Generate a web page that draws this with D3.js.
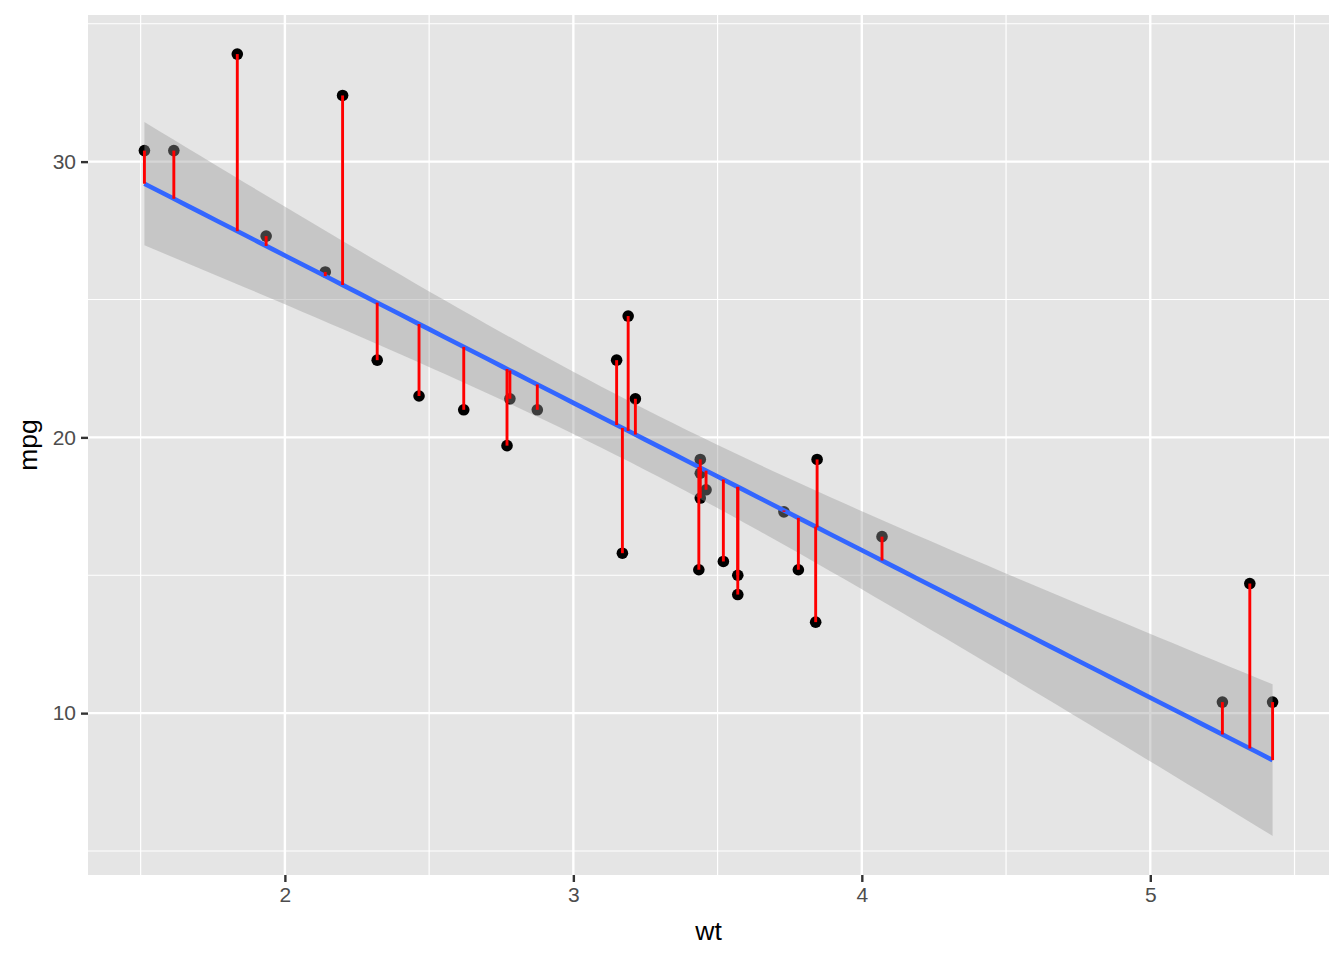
<!DOCTYPE html>
<html lang="en">
<head>
  <meta charset="UTF-8">
  <title>mpg vs wt</title>
  <style>
    body { margin: 0; background: #fff; }
    text { font-family: "Liberation Sans", Arial, sans-serif; }
  </style>
</head>
<body>
<svg width="1344" height="960"></svg>

<script src="https://cdn.jsdelivr.net/npm/d3@7"></script>
<script>
  // mtcars: weight (1000 lbs) and miles per gallon
  var wt = [2.620, 2.875, 2.320, 3.215, 3.440, 3.460, 3.570, 3.190, 3.150, 3.440, 3.440,
            4.070, 3.730, 3.780, 5.250, 5.424, 5.345, 2.200, 1.615, 1.835, 2.465, 3.520,
            3.435, 3.840, 3.845, 1.935, 2.140, 1.513, 3.170, 2.770, 3.570, 2.780];
  var mpg = [21.0, 21.0, 22.8, 21.4, 18.7, 18.1, 14.3, 24.4, 22.8, 19.2, 17.8,
             16.4, 17.3, 15.2, 10.4, 10.4, 14.7, 32.4, 30.4, 33.9, 21.5, 15.5,
             15.2, 13.3, 19.2, 27.3, 26.0, 30.4, 15.8, 19.7, 15.0, 21.4];
  var xTicks = [2, 3, 4, 5];
  var yTicks = [10, 20, 30];
  var xMinor = [1.5, 2.5, 3.5, 4.5, 5.5];
  var yMinor = [5, 15, 25, 35];

  var svg = d3.select('svg');
  var marge = {top: 15, right: 15, bottom: 85, left: 88};  //边距
  var width = 1344 - marge.left - marge.right, height = 960 - marge.top - marge.bottom;

  // 线性回归 (lm) + 95% 置信带
  var n = wt.length, xbar = d3.mean(wt), ybar = d3.mean(mpg);
  var sxx = d3.sum(wt, function (d) { return (d - xbar) * (d - xbar); });
  var sxy = d3.sum(wt, function (d, i) { return (d - xbar) * (mpg[i] - ybar); });
  var slope = sxy / sxx, intercept = ybar - slope * xbar;
  var fit = function (x) { return intercept + slope * x; };
  var sse = d3.sum(wt, function (d, i) { var r = mpg[i] - fit(d); return r * r; });
  var s = Math.sqrt(sse / (n - 2)), tq = 2.042272;
  var xMin = d3.min(wt), xMax = d3.max(wt);
  var band = d3.range(80).map(function (i) {
    var x = xMin + (xMax - xMin) * i / 79;
    var se = s * Math.sqrt(1 / n + (x - xbar) * (x - xbar) / sxx);
    return {x: x, y: fit(x), lo: fit(x) - tq * se, hi: fit(x) + tq * se};
  });

  var xPad = (xMax - xMin) * 0.05;
  var yLo = Math.min(d3.min(mpg), d3.min(band, function (d) { return d.lo; }));
  var yHi = Math.max(d3.max(mpg), d3.max(band, function (d) { return d.hi; }));
  var yPad = (yHi - yLo) * 0.05;
  var xScale = d3.scaleLinear().domain([xMin - xPad, xMax + xPad]).range([0, width]);
  var yScale = d3.scaleLinear().domain([yLo - yPad, yHi + yPad]).range([height, 0]);

  var g = svg.append('g').attr('transform', `translate(${marge.left}, ${marge.top})`);
  g.append('rect').attr('width', width).attr('height', height).attr('fill', '#E5E5E5');

  // 网格线
  g.selectAll('.xminor').data(xMinor).enter().append('line')
    .attr('x1', xScale).attr('x2', xScale).attr('y1', 0).attr('y2', height)
    .attr('stroke', '#fff').attr('stroke-width', 1.2);
  g.selectAll('.yminor').data(yMinor).enter().append('line')
    .attr('y1', yScale).attr('y2', yScale).attr('x1', 0).attr('x2', width)
    .attr('stroke', '#fff').attr('stroke-width', 1.2);
  g.selectAll('.xmajor').data(xTicks).enter().append('line')
    .attr('x1', xScale).attr('x2', xScale).attr('y1', 0).attr('y2', height)
    .attr('stroke', '#fff').attr('stroke-width', 2.4);
  g.selectAll('.ymajor').data(yTicks).enter().append('line')
    .attr('y1', yScale).attr('y2', yScale).attr('x1', 0).attr('x2', width)
    .attr('stroke', '#fff').attr('stroke-width', 2.4);

  // 点
  g.selectAll('circle').data(wt).enter().append('circle')
    .attr('cx', function (d) { return xScale(d); })
    .attr('cy', function (d, i) { return yScale(mpg[i]); })
    .attr('r', 5.8).attr('fill', '#000');

  // 置信带和回归线
  var area = d3.area().x(function (d) { return xScale(d.x); })
    .y0(function (d) { return yScale(d.lo); }).y1(function (d) { return yScale(d.hi); });
  g.append('path').datum(band).attr('d', area).attr('fill', '#999999').attr('fill-opacity', 0.4);
  var line = d3.line().x(function (d) { return xScale(d.x); }).y(function (d) { return yScale(d.y); });
  g.append('path').datum(band).attr('d', line).attr('fill', 'none')
    .attr('stroke', '#3366FF').attr('stroke-width', 4.6);

  // 残差线段
  g.selectAll('.resid').data(wt).enter().append('line')
    .attr('x1', function (d) { return xScale(d); }).attr('x2', function (d) { return xScale(d); })
    .attr('y1', function (d, i) { return yScale(mpg[i]); })
    .attr('y2', function (d) { return yScale(fit(d)); })
    .attr('stroke', 'red').attr('stroke-width', 2.9);

  // 坐标轴
  var xAxis = d3.axisBottom(xScale).tickValues(xTicks).tickSize(7).tickPadding(5).tickFormat(d3.format('d'));
  var yAxis = d3.axisLeft(yScale).tickValues(yTicks).tickSize(7).tickPadding(5).tickFormat(d3.format('d'));
  var gx = g.append('g').attr('transform', `translate(0, ${height})`).call(xAxis);
  var gy = g.append('g').call(yAxis);
  [gx, gy].forEach(function (ax) {
    ax.attr('font-size', null).attr('font-family', null);
    ax.select('.domain').remove();
    ax.selectAll('.tick line').attr('stroke', '#333333').attr('stroke-width', 2.4);
    ax.selectAll('.tick text').attr('fill', '#4D4D4D').style('font-size', '21px');
  });

  svg.append('text').attr('x', marge.left + width / 2).attr('y', 940)
    .attr('text-anchor', 'middle').style('font-size', '26.5px').attr('fill', '#000').text('wt');
  svg.append('text').attr('transform', `translate(37, ${marge.top + height / 2}) rotate(-90)`)
    .attr('text-anchor', 'middle').style('font-size', '26.5px').attr('fill', '#000').text('mpg');
</script>
</body>
</html>
